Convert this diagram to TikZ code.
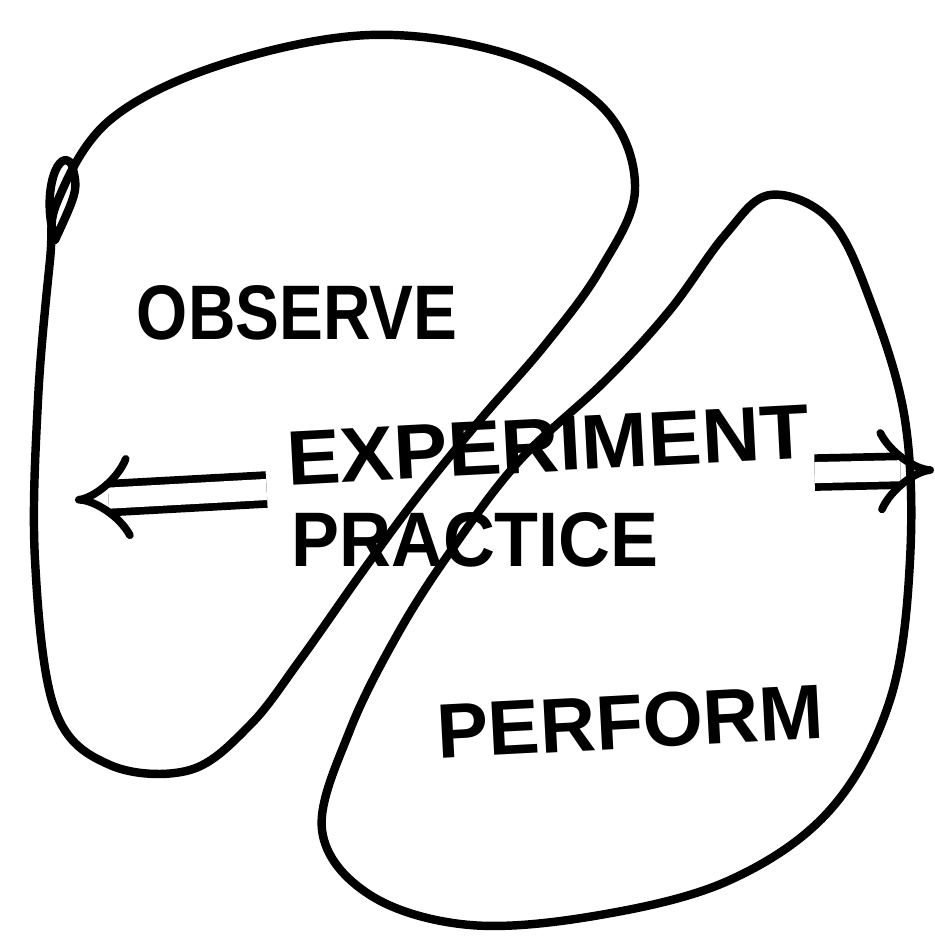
\documentclass[tikz,border=0pt]{standalone}
\usepackage{fontspec}
\setmainfont{Liberation Sans}
\usetikzlibrary{arrows.meta}

\begin{document}
\begin{tikzpicture}[
    blob/.style={line width=2.4pt,line join=round,line cap=round},
    word/.style={font=\fontsize{22}{22}\selectfont\bfseries,inner sep=0pt},
    twoway/.style={line width=2.2pt,double distance=6pt,line cap=butt,
      -{Implies[length=7mm,width=10mm]}}]
    \useasboundingbox (0,0) rectangle (9.34,9.5);

    % Observe blob
    \draw[blob] plot[smooth cycle,tension=0.6] coordinates {
      (0.58,7.5) (1.1,8.3) (2.2,8.85) (3.7,9.15) (5.1,8.95) (6.05,8.4)
      (6.35,7.6) (6.0,6.8) (5.45,6.05) (4.8,5.3) (4.15,4.5) (3.6,3.75)
      (3.0,2.9) (2.5,2.25) (1.9,1.8) (1.1,1.85) (0.55,2.4) (0.35,3.9)
      (0.38,5.5) (0.5,6.9)};
    \draw[blob] (0.55,7.1) .. controls (0.4,7.6) and (0.6,8.05) .. (0.72,7.85)
      .. controls (0.78,7.6) .. (0.55,7.1);

    % Perform blob
    \draw[blob] plot[smooth cycle,tension=0.6] coordinates {
      (7.7,7.55) (7.25,7.15) (6.7,6.4) (6.06,5.7) (5.2,4.9) (4.55,4.05)
      (4.0,3.2) (3.5,2.2) (3.22,1.2) (3.7,0.55) (4.7,0.25) (6.0,0.35)
      (7.3,0.7) (8.3,1.4) (8.9,2.5) (9.1,3.9) (9.05,5.3) (8.7,6.5)
      (8.3,7.3)};

    % Labels
    \node[word,xscale=0.85] (observe) at (2.97,6.37) {OBSERVE};
    \node[word,rotate=3,xscale=1.04] (experiment) at (5.48,5.05) {EXPERIMENT};
    \node[word,xscale=0.93] (practice) at (4.75,4.1) {PRACTICE};
    \node[word,rotate=3] (perform) at (6.3,2.28) {PERFORM};

    % Arrows
    \coordinate (lefttip) at (0.75,4.5);
    \coordinate (righttip) at (9.34,4.8);
    \draw[twoway] ([xshift=-6pt,yshift=-1pt]experiment.south west) -- (lefttip);
    \draw[twoway] ([xshift=1pt,yshift=-4pt]experiment.south east) -- (righttip);
\end{tikzpicture}
\end{document}
